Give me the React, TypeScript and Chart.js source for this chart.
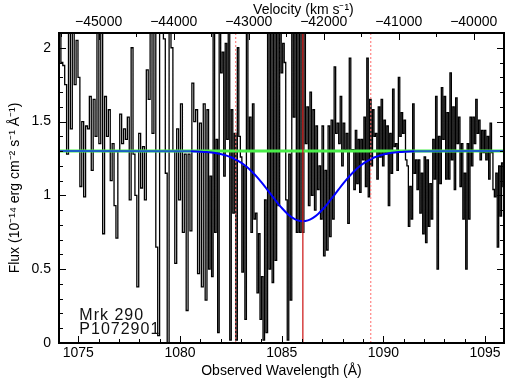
import React, { useEffect, useRef } from 'react';
import { Chart, registerables } from 'chart.js';

Chart.register(...registerables);

// ---- axis ranges ----
const X_MIN = 1074.05;
const X_MAX = 1095.93;
const Y_MIN = 0;
const Y_MAX = 2.1;
const V_MIN = -45529;
const V_MAX = -39596;

// ---- tick labels ----
const xMajorTicks = [1075, 1080, 1085, 1090, 1095];
const yMajorTicks = [0, 0.5, 1, 1.5, 2];
const vMajorTicks = [-45000, -44000, -43000, -42000, -41000, -40000];
const topTitle = 'Velocity (km s\u207B\u00B9)';
const topTitleVelocity = -42270;

// ---- spectrum (flux, 1e-14 erg/cm2/s/A), three wavelength segments ----
const segEdges = [1074.05, 1081.33, 1088.62, 1095.95];
const fluxSeg1 = [
  2.2, 1.9, 1.88, 1.75, 1.28, 2.3, 1.45, 2.2, 1.75, 2.05,
  1.8, 1.06, 1.5, 0.99, 1.47, 1.45, 1.67, 1.17, 1.65, 1.4,
  2.3, 1.35, 2.3, 0.74, 1.67, 1.4, 1.58, 1.1, 1.35, 0.93,
  0.71, 1.3, 1.55, 1.35, 1.45, 1.38, 1.53, 0.97, 2.0, 1.28,
  1.0, 0.38, 1.42, 1.05, 1.33, 0.97, 1.85, 1.65, 2.3, 1.42,
  2.1, 0.65, 0.05, 2.3, 2.3, 2.06, 1.15, 0.0, 2.3, 2.0,
  1.3, 0.54, 1.45, 0.97, 1.62, 0.75, 1.28, 0.22, 1.28, 0.76,
  1.76, 1.5, 1.58, 0.47, 1.49, 0.38, 1.62, 0.29,
];
const fluxSeg2 = [
  1.58, 0.5, 1.13, 0.45, 2.3, 0.75, 1.38, 0.07, 2.3, 1.83,
  1.97, 1.13, 2.03, 1.38, 2.3, 0.02, 1.58, 0.88, 1.42, 0.02,
  2.0, 1.4, 1.26, 0.48, 1.2, 0.16, 2.3, 1.3, 1.53, 0.75,
  1.62, 0.84, 0.88, 0.34, 0.74, 0.16, 0.45, 0.02, 0.97, 0.07,
  2.3, 0.5, 2.3, 0.41, 2.3, 0.56, 2.3, 0.93, 2.3, 1.83,
  2.03, 1.9, 0.97, 0.02, 1.28, 0.29, 2.3, 1.53, 2.3, 0.75,
  2.2, 0.75, 2.3, 0.75, 2.3, 1.35, 1.6, 0.93, 1.7, 1.0,
  1.58, 0.9, 1.47, 1.04, 1.2, 0.84, 1.47, 0.59, 1.17, 0.63,
  1.47, 0.72, 1.51, 0.84, 1.87, 1.42, 1.49, 1.35, 1.67, 1.2,
  1.49, 1.31, 1.42, 0.81, 1.93, 1.31, 1.31, 1.04,
];
const fluxSeg3 = [
  1.44, 1.08, 1.38, 1.02, 1.38, 1.24, 1.53, 1.06, 1.93, 0.99,
  1.65, 1.2, 1.58, 1.4, 1.42, 1.11, 1.6, 1.26, 1.65, 1.2,
  1.51, 1.28, 1.47, 0.93, 1.42, 1.15, 1.72, 1.33, 1.35, 1.17,
  1.8, 1.4, 1.56, 1.42, 1.51, 1.24, 1.2, 0.79, 1.06, 0.84,
  1.62, 1.15, 1.24, 1.04, 1.24, 0.88, 1.15, 0.74, 1.26, 0.68,
  1.24, 0.79, 1.08, 0.84, 1.38, 1.11, 1.67, 0.5, 1.4, 1.08,
  1.73, 1.38, 1.67, 1.11, 1.56, 1.11, 1.83, 1.24, 1.6, 1.04,
  1.66, 1.35, 1.53, 1.06, 1.35, 0.84, 1.15, 0.5, 1.35, 0.84,
  1.53, 1.2, 1.53, 1.35, 1.65, 1.42, 1.51, 1.24, 1.44, 1.29,
  1.44, 1.24, 1.4, 1.11, 1.49, 1.29, 1.04, 0.99, 1.15, 0.65,
  1.2, 0.86, 1.22, 1.06,
];

// ---- absorption model (blue) and continuum (green) ----
const continuumLevel = 1.3;
const modelWave = [
  1080.04, 1080.29, 1080.54, 1080.79, 1081.04, 1081.29, 1081.54, 1081.79, 1082.04, 1082.29,
  1082.54, 1082.79, 1083.04, 1083.29, 1083.54, 1083.79, 1084.04, 1084.29, 1084.54, 1084.79,
  1085.04, 1085.29, 1085.54, 1085.79, 1086.04, 1086.29, 1086.54, 1086.79, 1087.04, 1087.29,
  1087.54, 1087.79, 1088.04, 1088.29, 1088.54, 1088.79, 1089.04, 1089.29, 1089.54, 1089.79,
  1090.04, 1090.29, 1090.54, 1090.79, 1091.04, 1091.29, 1091.54, 1091.79, 1092.04,
];
const modelFlux = [
  1.2996, 1.2993, 1.2987, 1.2978, 1.2964, 1.2942, 1.2909, 1.2861, 1.2791, 1.2695,
  1.2566, 1.2396, 1.2181, 1.1916, 1.1599, 1.1233, 1.0825, 1.0388, 0.9939, 0.9499,
  0.9093, 0.8744, 0.8476, 0.8308, 0.825, 0.8308, 0.8476, 0.8744, 0.9093, 0.9499,
  0.9939, 1.0388, 1.0825, 1.1233, 1.1599, 1.1916, 1.2181, 1.2396, 1.2566, 1.2695,
  1.2791, 1.2861, 1.2909, 1.2942, 1.2964, 1.2978, 1.2987, 1.2993, 1.2996,
];
const lineCenter = 1086.04;
const dottedLines = [1082.74, 1089.38];
const labelLines = ['Mrk 290', 'P1072901'];

const FONT = '"Liberation Sans", Arial, Helvetica, sans-serif';

function buildSpectrum() {
  const segs = [fluxSeg1, fluxSeg2, fluxSeg3];
  const pts: { x: number; y: number }[] = [];
  segs.forEach((seg, s) => {
    const a = segEdges[s];
    const b = segEdges[s + 1];
    const step = (b - a) / seg.length;
    seg.forEach((v, i) => pts.push({ x: a + (i + 0.5) * step, y: v }));
  });
  return pts;
}

function rangeTicks(min: number, max: number, step: number, start: number) {
  const out: number[] = [];
  for (let v = start; v <= max + 1e-9; v += step) {
    const r = Math.round(v * 1000) / 1000;
    if (r >= min - 1e-9) out.push(r);
  }
  return out;
}

const isMajorIn = (arr: number[], v: number) => arr.some((m) => Math.abs(m - v) < 1e-6);

const decorPlugin = {
  id: 'decor',
  afterDraw(chart: any) {
    const { ctx, chartArea: a, scales } = chart;
    ctx.save();
    ctx.strokeStyle = '#000';
    ctx.lineWidth = 1;
    const seg = (x1: number, y1: number, x2: number, y2: number) => {
      ctx.beginPath();
      ctx.moveTo(x1, y1);
      ctx.lineTo(x2, y2);
      ctx.stroke();
    };
    // bottom ticks
    for (const t of scales.x.ticks) {
      const px = Math.round(scales.x.getPixelForValue(t.value)) + 0.5;
      const len = isMajorIn(xMajorTicks, t.value) ? 7 : 4;
      seg(px, a.bottom, px, a.bottom - len);
    }
    // top ticks (velocity)
    for (const t of scales.x2.ticks) {
      const px = Math.round(scales.x2.getPixelForValue(t.value)) + 0.5;
      const len = isMajorIn(vMajorTicks, t.value) ? 7 : 4;
      seg(px, a.top, px, a.top + len);
    }
    // left and right ticks
    for (const t of scales.y.ticks) {
      const py = Math.round(scales.y.getPixelForValue(t.value)) + 0.5;
      const len = isMajorIn(yMajorTicks, t.value) ? 7 : 4;
      seg(a.left, py, a.left + len, py);
      seg(a.right, py, a.right - len, py);
    }
    // frame
    ctx.lineWidth = 2;
    ctx.strokeRect(a.left, a.top, a.right - a.left, a.bottom - a.top);
    // top axis title
    ctx.fillStyle = '#000';
    ctx.font = `14px ${FONT}`;
    ctx.textAlign = 'center';
    ctx.textBaseline = 'middle';
    ctx.fillText(topTitle, scales.x2.getPixelForValue(topTitleVelocity), 10);
    // object label
    ctx.fillStyle = '#111';
    ctx.font = `16px ${FONT}`;
    (ctx as any).letterSpacing = '1px';
    ctx.textBaseline = 'alphabetic';
    ctx.textAlign = 'left';
    const tx = scales.x.getPixelForValue(1075.05);
    ctx.fillText(labelLines[0], tx, scales.y.getPixelForValue(0.156));
    ctx.fillText(labelLines[1], tx, scales.y.getPixelForValue(0.064));
    ctx.restore();
  },
};

export default function App() {
  const ref = useRef<HTMLCanvasElement | null>(null);

  useEffect(() => {
    document.body.style.margin = '0';
    const canvas = ref.current;
    if (!canvas) return;

    const xTicks = rangeTicks(X_MIN, X_MAX, 1, 1074);
    const vTicks = rangeTicks(V_MIN, V_MAX, 500, -46000);
    const yTicks = rangeTicks(Y_MIN, 2.0, 0.1, 0);

    const vert = (x: number) => [
      { x, y: Y_MIN },
      { x, y: Y_MAX },
    ];

    const blueData = [
      { x: X_MIN, y: continuumLevel },
      ...modelWave.map((w, i) => ({ x: w, y: modelFlux[i] })),
      { x: X_MAX, y: continuumLevel },
    ];

    const tickFont = { family: FONT, size: 14 };
    const titleFont = { family: FONT, size: 14 };

    const chart = new Chart(canvas, {
      type: 'line',
      data: {
        datasets: [
          {
            label: 'spectrum',
            data: buildSpectrum(),
            borderColor: '#000',
            borderWidth: 1.3,
            pointRadius: 0,
            stepped: 'middle',
            order: 6,
          } as any,
          {
            label: 'continuum',
            data: [
              { x: X_MIN, y: continuumLevel },
              { x: X_MAX, y: continuumLevel },
            ],
            borderColor: '#4aee4a',
            borderWidth: 3,
            pointRadius: 0,
            order: 5,
          },
          {
            label: 'model',
            data: blueData,
            borderColor: '#0000ff',
            borderWidth: 2,
            pointRadius: 0,
            cubicInterpolationMode: 'monotone',
            segment: {
              borderColor: (c: any) =>
                c.p0.parsed.y > 1.2985 && c.p1.parsed.y > 1.2985 ? '#1c5fc4' : '#0000ff',
            },
            order: 4,
          } as any,
          {
            label: 'center',
            data: vert(lineCenter),
            borderColor: '#d02222',
            borderWidth: 1.3,
            pointRadius: 0,
            order: 2,
          },
          ...dottedLines.map((w) => ({
            label: 'limit',
            data: vert(w),
            borderColor: '#ff6a6a',
            borderWidth: 1,
            borderDash: [2, 2],
            pointRadius: 0,
            order: 3,
          })),
        ],
      },
      options: {
        animation: false,
        responsive: false,
        devicePixelRatio: 1,
        layout: { padding: { left: 0, right: 1, top: 0, bottom: 0 } },
        plugins: { legend: { display: false }, tooltip: { enabled: false } },
        elements: { line: { tension: 0 } },
        scales: {
          x: {
            type: 'linear',
            position: 'bottom',
            min: X_MIN,
            max: X_MAX,
            afterBuildTicks: (s: any) => {
              s.ticks = xTicks.map((v) => ({ value: v }));
            },
            afterFit: (s: any) => {
              s.height = 42;
            },
            ticks: {
              autoSkip: false,
              maxRotation: 0,
              minRotation: 0,
              padding: 2,
              color: '#000',
              font: tickFont,
              callback: (v: any) => (isMajorIn(xMajorTicks, v) ? String(v) : ''),
            },
            grid: { display: false, drawTicks: false },
            border: { display: false },
            title: {
              display: true,
              text: 'Observed Wavelength (Å)',
              color: '#000',
              font: titleFont,
              padding: { top: 0, bottom: 5 },
            },
          },
          x2: {
            type: 'linear',
            position: 'top',
            min: V_MIN,
            max: V_MAX,
            afterBuildTicks: (s: any) => {
              s.ticks = vTicks.map((v) => ({ value: v }));
            },
            afterFit: (s: any) => {
              s.height = 33;
            },
            ticks: {
              autoSkip: false,
              maxRotation: 0,
              minRotation: 0,
              padding: 2,
              color: '#000',
              font: tickFont,
              callback: (v: any) =>
                isMajorIn(vMajorTicks, v) ? (v < 0 ? '\u2212' + Math.abs(v) : String(v)) : '',
            },
            grid: { display: false, drawTicks: false },
            border: { display: false },
            title: { display: false },
          },
          y: {
            type: 'linear',
            position: 'left',
            min: Y_MIN,
            max: Y_MAX,
            afterBuildTicks: (s: any) => {
              s.ticks = yTicks.map((v) => ({ value: v }));
            },
            afterFit: (s: any) => {
              s.width = 59;
            },
            ticks: {
              autoSkip: false,
              padding: 8,
              color: '#000',
              font: tickFont,
              callback: (v: any) => (isMajorIn(yMajorTicks, v) ? String(v) : ''),
            },
            grid: { display: false, drawTicks: false },
            border: { display: false },
            title: {
              display: true,
              text: 'Flux (10\u207B\u00B9\u2074 erg cm\u207B\u00B2 s\u207B\u00B9 \u00C5\u207B\u00B9)',
              color: '#000',
              font: titleFont,
              padding: { top: 7, bottom: 0 },
            },
          },
        },
      } as any,
      plugins: [decorPlugin],
    });

    return () => {
      chart.destroy();
    };
  }, []);

  return (
    <canvas
      ref={ref}
      width={505}
      height={385}
      style={{ display: 'block', width: 505, height: 385 }}
    />
  );
}
